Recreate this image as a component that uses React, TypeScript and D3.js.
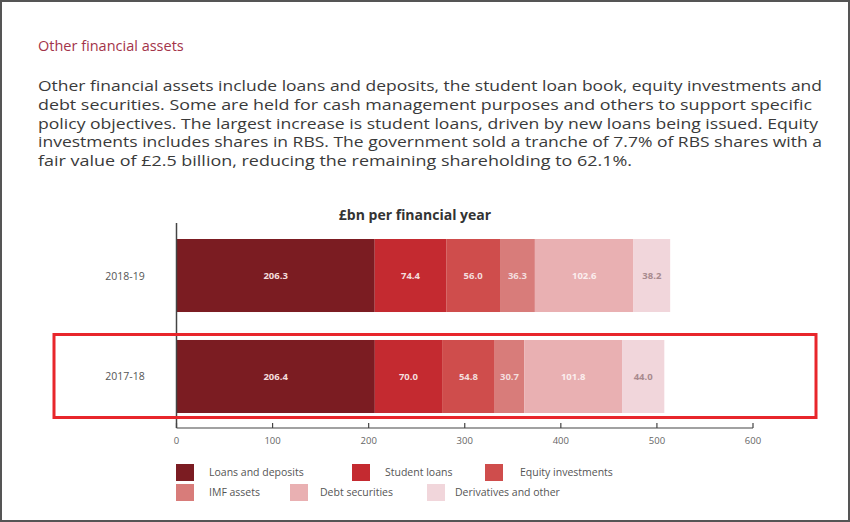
import React from "react";
import * as d3 from "d3";

const categories = ["2018-19", "2017-18"];
const seriesNames = ["Loans and deposits", "Student loans", "Equity investments", "IMF assets", "Debt securities", "Derivatives and other"];
const values2018_19 = [206.3, 74.4, 56.0, 36.3, 102.6, 38.2];
const values2017_18 = [206.4, 70.0, 54.8, 30.7, 101.8, 44.0];
const seriesColors = ["#7b1c22", "#c42a30", "#cf4d4c", "#d87c7a", "#e9b0b2", "#f1d6db"];
const labelColors = ["#f4dede", "#f4dede", "#f4dede", "#f4dede", "#fbeeee", "#a88a8e"];
const xTicks = [0, 100, 200, 300, 400, 500, 600];

const paragraph = [
  "Other financial assets include loans and deposits, the student loan book, equity investments and",
  "debt securities. Some are held for cash management purposes and others to support specific",
  "policy objectives. The largest increase is student loans, driven by new loans being issued. Equity",
  "investments includes shares in RBS. The government sold a tranche of 7.7% of RBS shares with a",
  "fair value of £2.5 billion, reducing the remaining shareholding to 62.1%.",
];
const paragraphWidths = [784, 774, 780, 784, 594];

export default function App() {
  const W = 850, H = 522;
  const x = d3.scaleLinear().domain([0, 600]).range([176.5, 753]);
  const y = d3.scaleBand().domain(categories).range([239, 413]).paddingInner(0.277).paddingOuter(0);
  const rows = [values2018_19, values2017_18];
  const font = "'Open Sans', 'DejaVu Sans', sans-serif";

  const legendItems = [
    { i: 0, sx: 176, tx: 209, row: 0 },
    { i: 1, sx: 352, tx: 385, row: 0 },
    { i: 2, sx: 485, tx: 520, row: 0 },
    { i: 3, sx: 176, tx: 209, row: 1 },
    { i: 4, sx: 290, tx: 320, row: 1 },
    { i: 5, sx: 427, tx: 455, row: 1 },
  ];

  return (
    <svg width={W} height={H} style={{ position: "absolute", left: 0, top: 0, background: "#fff" }} fontFamily={font}>
      <rect x={1} y={1} width={W - 2} height={H - 2} fill="#fff" stroke="#555" strokeWidth={2} />
      <text x={38} y={51} fontSize={14.5} fill="#a3344a">Other financial assets</text>
      {paragraph.map((line, i) => (
        <text key={i} x={38} y={91 + i * 18.8} fontSize={14} fill="#3a3a3a" textLength={paragraphWidths[i]} lengthAdjust="spacingAndGlyphs">{line}</text>
      ))}
      <text x={415} y={220} fontSize={14} fontWeight="bold" fill="#333" textAnchor="middle">£bn per financial year</text>

      {rows.map((vals, r) => {
        const cat = categories[r];
        const y0 = y(cat)!;
        const bh = y.bandwidth();
        let acc = 0;
        return (
          <g key={cat}>
            <text x={125} y={y0 + bh / 2 + 4} fontSize={10.5} fill="#555" textAnchor="middle">{cat}</text>
            {vals.map((v, i) => {
              const xs = x(acc);
              acc += v;
              const xe = x(acc);
              return (
                <g key={i}>
                  <rect x={xs} y={y0} width={xe - xs} height={bh} fill={seriesColors[i]} />
                  <text x={(xs + xe) / 2} y={y0 + bh / 2 + 3.5} fontSize={9.5} fontWeight="bold" fill={labelColors[i]} textAnchor="middle">{v.toFixed(1)}</text>
                </g>
              );
            })}
          </g>
        );
      })}

      <line x1={x(0)} x2={x(0)} y1={223} y2={428} stroke="#444" strokeWidth={1.5} />
      <line x1={x(0)} x2={x(600)} y1={428} y2={428} stroke="#444" strokeWidth={1.2} />
      {xTicks.map((t) => (
        <g key={t}>
          <line x1={x(t)} x2={x(t)} y1={423} y2={428} stroke="#444" strokeWidth={1.2} />
          <text x={x(t)} y={444} fontSize={9.5} fill="#666" textAnchor="middle">{t}</text>
        </g>
      ))}

      {legendItems.map((d) => {
        const ly = d.row === 0 ? 464 : 484;
        return (
          <g key={d.i}>
            <rect x={d.sx} y={ly} width={18} height={17} fill={seriesColors[d.i]} />
            <text x={d.tx} y={ly + 12} fontSize={10.5} fill="#555">{seriesNames[d.i]}</text>
          </g>
        );
      })}

      <rect x={54} y={334.5} width={762} height={83} fill="none" stroke="#e8262b" strokeWidth={3} />
    </svg>
  );
}
